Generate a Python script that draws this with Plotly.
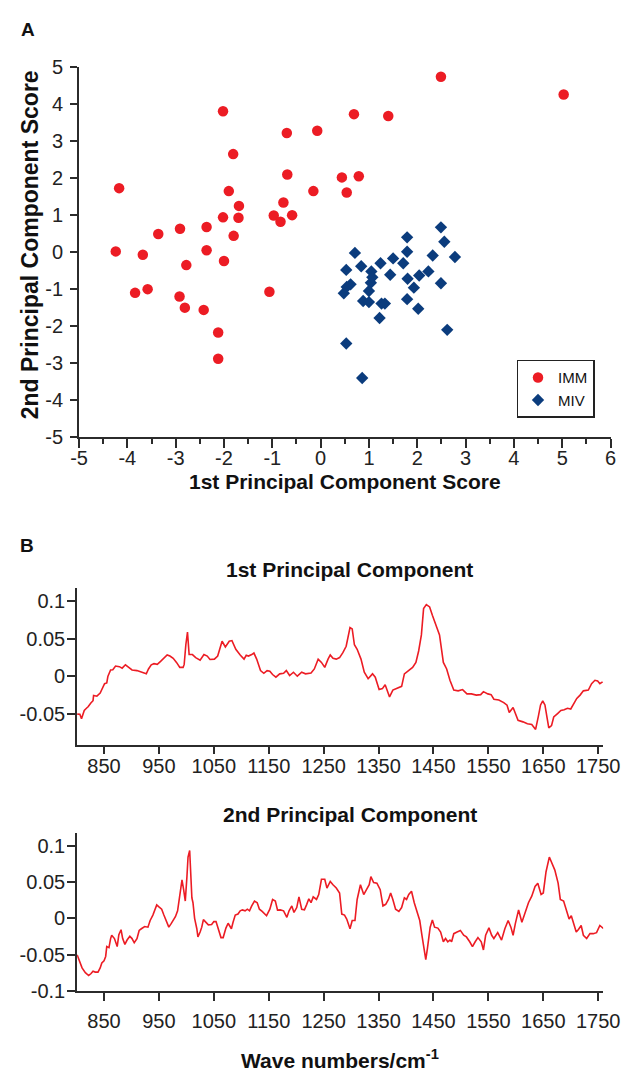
import plotly.graph_objects as go

# ---------------- data: panel A scores ----------------
imm_x = [-4.24, -4.17, -3.68, -3.84, -3.58, -3.36, -2.91, -2.78, -2.92, -2.81,
         -2.36, -2.36, -2.42, -2.12, -2.12, -2.02, -2.02, -2.00, -1.90, -1.81,
         -1.80, -1.69, -1.70, -1.06, -0.97, -0.83, -0.77, -0.70, -0.69, -0.59,
         -0.15, -0.07, 0.44, 0.54, 0.69, 0.79, 1.40, 2.49, 5.03]
imm_y = [0.02, 1.73, -0.07, -1.10, -1.00, 0.49, 0.63, -0.35, -1.20, -1.50,
         0.68, 0.05, -1.56, -2.17, -2.88, 3.81, 0.94, -0.24, 1.65, 2.65,
         0.44, 1.25, 0.93, -1.07, 0.99, 0.82, 1.34, 3.22, 2.10, 1.00,
         1.65, 3.28, 2.02, 1.61, 3.73, 2.05, 3.68, 4.74, 4.26]

miv_x = [2.49, 1.79, 2.56, 0.71, 1.79, 2.32, 2.78, 1.50, 1.24, 1.71,
         0.84, 0.53, 1.05, 2.23, 1.44, 2.04, 1.80, 1.04, 0.62, 2.49,
         1.93, 0.54, 1.00, 0.48, 1.79, 0.88, 1.00, 1.26, 1.33, 2.02,
         1.22, 2.62, 0.53, 0.86, 1.07]
miv_y = [0.67, 0.40, 0.28, -0.02, 0.01, -0.09, -0.13, -0.17, -0.30, -0.30,
         -0.38, -0.48, -0.52, -0.52, -0.61, -0.63, -0.72, -0.83, -0.87, -0.84,
         -0.96, -0.94, -1.05, -1.11, -1.27, -1.32, -1.35, -1.39, -1.39, -1.53,
         -1.78, -2.10, -2.47, -3.40, -0.68]

score_ticks = [-5, -4, -3, -2, -1, 0, 1, 2, 3, 4, 5, 6]
score_ticktext = ["-5", "-4", "-3", "-2", "-1", "0", "1", "2", "3", "4", "5", "6"]
score_yticks = [-5, -4, -3, -2, -1, 0, 1, 2, 3, 4, 5]
score_yticktext = ["-5", "-4", "-3", "-2", "-1", "0", "1", "2", "3", "4", "5"]

# ---------------- data: panel B loadings ----------------
wave1 = [801, 806, 809, 814, 818, 821, 826, 830, 831, 837, 843, 847, 851, 855, 857,
         862, 866, 871, 878, 883, 889, 895, 901, 910, 918, 927, 931, 936, 941, 947,
         953, 959, 965, 970, 976, 982, 988, 994, 996, 999, 1002, 1005, 1011, 1017, 1025,
         1032, 1038, 1043, 1051, 1057, 1065, 1071, 1078, 1083, 1090, 1098, 1105, 1109, 1113, 1119,
         1123, 1128, 1135, 1141, 1147, 1152, 1157, 1163, 1170, 1177, 1182, 1188, 1195, 1202, 1210,
         1217, 1227, 1233, 1240, 1246, 1252, 1258, 1262, 1267, 1273, 1279, 1285, 1291, 1295, 1298,
         1302, 1306, 1311, 1318, 1324, 1331, 1339, 1344, 1351, 1357, 1362, 1366, 1370, 1376, 1383,
         1392, 1397, 1404, 1412, 1418, 1423, 1428, 1432, 1437, 1443, 1448, 1454, 1461, 1468, 1474,
         1480, 1487, 1495, 1503, 1511, 1519, 1528, 1536, 1541, 1549, 1555, 1560, 1569, 1578, 1584,
         1588, 1595, 1604, 1613, 1621, 1629, 1636, 1641, 1645, 1649, 1653, 1657, 1660, 1665, 1669,
         1676, 1682, 1688, 1694, 1700, 1706, 1711, 1717, 1723, 1732, 1738, 1744, 1749, 1753, 1758]
pc1 = [-0.0497, -0.050, -0.056, -0.045, -0.042, -0.040, -0.035, -0.032, -0.025, -0.026, -0.022, -0.016, -0.0095, -0.0086, 0.0,
       0.0086, 0.009, 0.0138, 0.013, 0.011, 0.0155, 0.012, 0.0086, 0.0078, 0.0056, 0.0035, 0.010, 0.0155, 0.017, 0.016,
       0.020, 0.025, 0.0285, 0.027, 0.024, 0.0186, 0.012, 0.012, 0.016, 0.042, 0.0587, 0.029, 0.029, 0.025, 0.0216,
       0.029, 0.027, 0.0225, 0.023, 0.027, 0.0466, 0.039, 0.0466, 0.0475, 0.036, 0.0285, 0.023, 0.028, 0.027, 0.029,
       0.031, 0.023, 0.0078, 0.0043, 0.0078, 0.007, 0.0026, -0.0009, 0.0035, 0.0043, 0.0078, 0.0013, 0.0056, 0.0004, 0.0056,
       0.0035, 0.0047, 0.010, 0.023, 0.0186, 0.012, 0.023, 0.0285, 0.024, 0.023, 0.025, 0.0315, 0.040, 0.052, 0.0648,
       0.063, 0.042, 0.036, 0.023, 0.0056, -0.003, 0.0035, -0.0009, -0.0173, -0.016, -0.011, -0.018, -0.027, -0.018, -0.016,
       -0.013, 0.0035, 0.007, 0.012, 0.0186, 0.0337, 0.055, 0.0898, 0.095, 0.092, 0.081, 0.070, 0.055, 0.0186, 0.010,
       -0.005, -0.018, -0.019, -0.0173, -0.023, -0.023, -0.0246, -0.024, -0.020, -0.023, -0.024, -0.030, -0.031, -0.0345, -0.038,
       -0.0475, -0.041, -0.058, -0.060, -0.0626, -0.0635, -0.070, -0.0527, -0.0376, -0.0324, -0.0376, -0.055, -0.068, -0.065, -0.0535,
       -0.049, -0.045, -0.044, -0.042, -0.043, -0.0345, -0.029, -0.0246, -0.019, -0.018, -0.0095, -0.005, -0.006, -0.0095, -0.007]

wave2 = [801, 805, 810, 816, 822, 826, 830, 834, 839, 843, 846, 850, 853, 855, 859,
         862, 864, 869, 874, 877, 881, 884, 888, 892, 897, 901, 905, 910, 914, 918,
         924, 930, 934, 939, 943, 946, 950, 955, 959, 963, 968, 972, 976, 980, 984,
         988, 992, 995, 998, 1001, 1003, 1006, 1008, 1010, 1012, 1015, 1019, 1021, 1025, 1028,
         1031, 1036, 1040, 1046, 1050, 1054, 1059, 1063, 1067, 1072, 1076, 1082, 1085, 1089, 1094,
         1098, 1102, 1107, 1111, 1115, 1119, 1124, 1129, 1133, 1138, 1146, 1152, 1157, 1162, 1166,
         1171, 1177, 1183, 1187, 1192, 1196, 1201, 1205, 1210, 1215, 1219, 1223, 1227, 1231, 1237,
         1241, 1246, 1252, 1256, 1262, 1267, 1273, 1279, 1283, 1288, 1292, 1298, 1302, 1307, 1311,
         1317, 1323, 1328, 1333, 1336, 1341, 1347, 1353, 1358, 1363, 1368, 1372, 1376, 1381, 1387,
         1392, 1397, 1401, 1405, 1410, 1415, 1421, 1425, 1429, 1432, 1436, 1439, 1444, 1448, 1452,
         1458, 1463, 1468, 1472, 1476, 1480, 1483, 1487, 1493, 1499, 1505, 1510, 1516, 1521, 1526,
         1531, 1537, 1541, 1545, 1551, 1556, 1560, 1567, 1574, 1580, 1586, 1591, 1595, 1599, 1605,
         1611, 1617, 1623, 1629, 1635, 1640, 1646, 1650, 1655, 1661, 1665, 1671, 1677, 1681, 1687,
         1691, 1697, 1701, 1706, 1710, 1714, 1719, 1723, 1729, 1735, 1741, 1747, 1753, 1760]
pc2 = [-0.0505, -0.0595, -0.0685, -0.075, -0.079, -0.0766, -0.073, -0.0743, -0.0743, -0.0685, -0.0617, -0.0586, -0.0527, -0.039, -0.0405,
       -0.028, -0.0234, -0.028, -0.039, -0.0225, -0.0158, -0.028, -0.036, -0.030, -0.0248, -0.028, -0.0338, -0.028, -0.0167, -0.0144,
       -0.0113, -0.0122, -0.003, 0.0045, 0.0126, 0.0185, 0.0158, 0.0126, 0.0045, -0.003, -0.0122, -0.0077, -0.003, 0.0023, 0.0104,
       0.0306, 0.0532, 0.0396, 0.0239, 0.0577, 0.0847, 0.0937, 0.0667, 0.0284, 0.0216, 0.0, -0.0144, -0.0257, -0.019, -0.0122,
       -0.0018, -0.0054, -0.009, -0.0086, -0.0045, -0.0045, -0.0167, -0.0266, -0.0266, -0.0135, -0.0068, -0.0144, -0.0054, 0.0045, 0.0059,
       0.0104, 0.0117, 0.0104, 0.0126, 0.0104, 0.0171, 0.0239, 0.0216, 0.0126, 0.0095, 0.0036, 0.0126, 0.0261, 0.0239, 0.0113,
       0.0117, 0.0104, 0.0014, 0.0104, 0.0171, 0.0081, 0.0149, 0.0297, 0.0126, 0.0117, 0.0190, 0.027, 0.0216, 0.0297, 0.0261,
       0.0329, 0.054, 0.054, 0.0419, 0.0509, 0.0464, 0.0419, 0.0351, 0.0059, 0.0045, -0.0009, -0.0144, -0.003, -0.003, 0.0261,
       0.0464, 0.0329, 0.0396, 0.0464, 0.0577, 0.0495, 0.0486, 0.0396, 0.0171, 0.0194, 0.0261, 0.0351, 0.0261, 0.0126, 0.0095,
       0.0149, 0.0284, 0.0261, 0.0329, 0.0374, 0.0216, 0.0081, -0.003, -0.0234, -0.0392, -0.0572, -0.0414, -0.0122, -0.0023, -0.0122,
       -0.0135, -0.019, -0.0324, -0.0279, -0.0324, -0.030, -0.0324, -0.0212, -0.019, -0.0167, -0.0234, -0.0257, -0.0324, -0.0392, -0.0324,
       -0.0266, -0.0324, -0.0437, -0.0234, -0.0131, -0.0234, -0.0279, -0.0198, -0.030, -0.0144, -0.003, -0.0122, -0.0234, -0.0077, 0.0117,
       -0.0054, 0.0081, 0.0216, 0.0306, 0.0441, 0.0486, 0.0329, 0.0351, 0.0644, 0.0847, 0.0779, 0.0667, 0.0486, 0.0261, 0.0239,
       0.0126, -0.0009, 0.0036, -0.0077, -0.019, -0.0153, -0.0099, -0.0234, -0.0279, -0.0212, -0.0212, -0.0198, -0.0099, -0.0144]

wave_ticks = [850, 950, 1050, 1150, 1250, 1350, 1450, 1550, 1650, 1750]
pc1_yticks = [-0.05, 0, 0.05, 0.1]
pc1_yticktext = ["-0.05", "0", "0.05", "0.1"]
pc2_yticks = [-0.1, -0.05, 0, 0.05, 0.1]
pc2_yticktext = ["-0.1", "-0.05", "0", "0.05", "0.1"]

# ---------------- styling ----------------
W, H = 640, 1083
RED = "#EC1C24"
BLUE = "#0B3C7D"
AX = "#2b2b2b"
FONT = "Liberation Sans, Arial, Helvetica, sans-serif"


def px(x):
    return x / W


def py(y):
    return 1 - y / H


fig = go.Figure()

fig.add_trace(go.Scatter(x=imm_x, y=imm_y, mode="markers", name="IMM",
                         marker=dict(symbol="circle", size=10.5, color=RED),
                         xaxis="x", yaxis="y"))
fig.add_trace(go.Scatter(x=miv_x, y=miv_y, mode="markers", name="MIV",
                         marker=dict(symbol="diamond", size=9.5, color=BLUE),
                         xaxis="x", yaxis="y"))
fig.add_trace(go.Scatter(x=wave1, y=pc1, mode="lines", showlegend=False,
                         line=dict(color=RED, width=1.6), xaxis="x2", yaxis="y2"))
fig.add_trace(go.Scatter(x=wave2, y=pc2, mode="lines", showlegend=False,
                         line=dict(color=RED, width=1.6), xaxis="x3", yaxis="y3"))


def ax_style(ticklen=8, standoff=0):
    return dict(showline=True, linecolor=AX, linewidth=1.8, ticks="outside",
                tickcolor=AX, tickwidth=1.8, ticklen=ticklen, showgrid=False,
                zeroline=False, ticklabelstandoff=standoff,
                tickfont=dict(family=FONT, size=20, color="#222"))


fig.update_layout(
    width=W, height=H,
    margin=dict(l=0, r=0, t=0, b=0),
    paper_bgcolor="white", plot_bgcolor="white",
    font=dict(family=FONT, color="#111"),
    xaxis=dict(domain=[px(73), px(627)], range=[-5, 6], anchor="y",
               tickvals=score_ticks, ticktext=score_ticktext,
               minor=dict(ticks="outside", ticklen=5, tickwidth=1.8, tickcolor=AX, dtick=0.5),
               **ax_style(9, -7)),
    yaxis=dict(domain=[py(435), py(57.3)], range=[-5, 5], anchor="x",
               tickvals=score_yticks, ticktext=score_yticktext, **ax_style(7, 3)),
    xaxis2=dict(domain=[px(71), px(619.3)], range=[801, 1759], anchor="y2",
                tickvals=wave_ticks, **ax_style(7, -5)),
    yaxis2=dict(domain=[py(749.3), py(589.3)], range=[-0.0907, 0.1166], anchor="x2",
                tickvals=pc1_yticks, ticktext=pc1_yticktext, **ax_style(8, -2)),
    xaxis3=dict(domain=[px(71), px(619.3)], range=[801, 1759], anchor="y3",
                tickvals=wave_ticks, **ax_style(8, 3)),
    yaxis3=dict(domain=[py(1000), py(839.3)], range=[-0.1, 0.1176], anchor="x3",
                tickvals=pc2_yticks, ticktext=pc2_yticktext, **ax_style(8, -2)),
    legend=dict(x=px(529), y=py(356), xanchor="left", yanchor="top",
                bordercolor="#222", borderwidth=1.5, bgcolor="white",
                font=dict(family=FONT, size=15, color="#111"),
                itemwidth=30, tracegroupgap=0),
)

bold = dict(family=FONT, size=21, color="#111")
annots = [
    dict(text="<b>A</b>", x=px(20), y=py(19), font=dict(family=FONT, size=19, color="#111")),
    dict(text="<b>B</b>", x=px(19), y=py(546), font=dict(family=FONT, size=19, color="#111")),
    dict(text="<b>2nd Principal Component Score</b>", x=px(22), y=py(239), textangle=-90,
         font=dict(family=FONT, size=23, color="#111")),
    dict(text="<b>1st Principal Component Score</b>", x=px(350), y=py(480), font=bold),
    dict(text="<b>1st Principal Component</b>", x=px(355), y=py(570), font=bold),
    dict(text="<b>2nd Principal Component</b>", x=px(355), y=py(820), font=bold),
    dict(text="<b>Wave numbers/cm<sup>-1</sup></b>", x=px(345), y=py(1070), font=bold),
]
for a in annots:
    a.update(xref="paper", yref="paper", showarrow=False, xanchor="center", yanchor="middle")
    fig.add_annotation(**a)

fig.write_html("out.html")
